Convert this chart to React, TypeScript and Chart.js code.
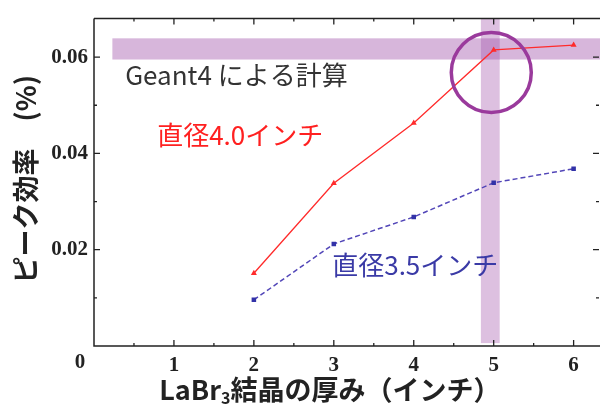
import React, { useEffect, useRef } from "react";
import { Chart, registerables } from "chart.js";

Chart.register(...registerables);

// ---- data ----
const thickness = [2, 3, 4, 5, 6];
const eff40 = [0.0151, 0.0338, 0.0463, 0.0615, 0.0625];
const eff35 = [0.0096, 0.0212, 0.0268, 0.0339, 0.0368];
const xTickLabels = ["0", "1", "2", "3", "4", "5", "6"];
const yTickLabels = ["0.02", "0.04", "0.06"];
const label40 = "直径4.0インチ";
const label35 = "直径3.5インチ";
const noteText = "Geant4 による計算";
const yTitle = "ピーク効率　(%)";
const xTitleParts = ["LaBr", "3", "結晶の厚み（インチ）"];

const CJK = '"Noto Sans CJK JP", "Noto Sans", sans-serif';
const SERIF = '"Liberation Serif", "DejaVu Serif", serif';

const decor = {
  id: "decor",
  beforeDatasetsDraw(chart: any) {
    const { ctx, chartArea: a, scales } = chart;
    const x = scales.x, y = scales.y;
    ctx.save();
    // horizontal highlight band
    const hx0 = x.getPixelForValue(0.23);
    const hy0 = y.getPixelForValue(0.0639);
    const hy1 = y.getPixelForValue(0.0595);
    ctx.fillStyle = "rgba(160,80,170,0.42)";
    ctx.fillRect(hx0, hy0, chart.width - hx0, hy1 - hy0);
    // vertical highlight band
    const vx0 = x.getPixelForValue(4.84);
    const vx1 = x.getPixelForValue(5.075);
    ctx.fillStyle = "rgba(160,80,170,0.36)";
    ctx.fillRect(vx0, a.top, vx1 - vx0, y.getPixelForValue(0.0006) - a.top);
    ctx.restore();
  },
  afterDatasetsDraw(chart: any) {
    const { ctx, chartArea: a, scales } = chart;
    const x = scales.x, y = scales.y;
    const W = chart.width;
    ctx.save();
    // circle
    ctx.beginPath();
    ctx.arc(x.getPixelForValue(4.97), y.getPixelForValue(0.0568), 40, 0, Math.PI * 2);
    ctx.strokeStyle = "#9a3a9c";
    ctx.lineWidth = 3.5;
    ctx.stroke();

    // frame
    ctx.strokeStyle = "#222";
    ctx.lineWidth = 1.5;
    ctx.beginPath();
    ctx.moveTo(a.left, a.top);
    ctx.lineTo(W, a.top);
    ctx.moveTo(a.left, a.top);
    ctx.lineTo(a.left, a.bottom);
    ctx.lineTo(W, a.bottom);
    ctx.stroke();

    // ticks (inward)
    ctx.lineWidth = 1.3;
    ctx.beginPath();
    for (let v = 0.5; v <= 6.01; v += 0.5) {
      const px = x.getPixelForValue(v);
      const len = Math.abs(v - Math.round(v)) < 1e-6 ? 6 : 3;
      ctx.moveTo(px, a.bottom);
      ctx.lineTo(px, a.bottom - len);
      ctx.moveTo(px, a.top);
      ctx.lineTo(px, a.top + len);
    }
    for (let i = 1; i <= 6; i++) {
      const v = i * 0.01;
      const py = y.getPixelForValue(v);
      const len = i % 2 === 0 ? 6 : 3;
      ctx.moveTo(a.left, py);
      ctx.lineTo(a.left + len, py);
      ctx.moveTo(W - 1, py);
      ctx.lineTo(W - 1 - len, py);
    }
    ctx.stroke();

    // "0" origin label
    ctx.fillStyle = "#222";
    ctx.font = `bold 21px ${SERIF}`;
    ctx.textAlign = "center";
    ctx.textBaseline = "middle";
    ctx.fillText(xTickLabels[0], x.getPixelForValue(0) - 14, a.bottom + 17);

    // annotations
    ctx.textAlign = "left";
    ctx.textBaseline = "middle";
    ctx.font = `26px ${CJK}`;
    ctx.fillStyle = "#333";
    ctx.fillText(noteText, x.getPixelForValue(0.39), y.getPixelForValue(0.05625));
    ctx.fillStyle = "#ff2020";
    ctx.fillText(label40, x.getPixelForValue(0.79), y.getPixelForValue(0.0437));
    ctx.fillStyle = "#3a3aa6";
    ctx.fillText(label35, x.getPixelForValue(2.98), y.getPixelForValue(0.0167));

    // x title
    ctx.fillStyle = "#222";
    const big = `bold 27px ${CJK}`;
    const small = `bold 16px ${CJK}`;
    ctx.font = big;
    const w0 = ctx.measureText(xTitleParts[0]).width;
    const w2 = ctx.measureText(xTitleParts[2]).width;
    ctx.font = small;
    const w1 = ctx.measureText(xTitleParts[1]).width;
    const total = w0 + w1 + w2;
    const cx = x.getPixelForValue(2.95);
    let sx = cx - total / 2;
    const ty = a.bottom + 44;
    ctx.textAlign = "left";
    ctx.font = big;
    ctx.fillText(xTitleParts[0], sx, ty);
    sx += w0;
    ctx.font = small;
    ctx.fillText(xTitleParts[1], sx, ty + 8);
    sx += w1;
    ctx.font = big;
    ctx.fillText(xTitleParts[2], sx, ty);

    // y title
    ctx.save();
    ctx.translate(25.5, (a.top + a.bottom) / 2 - 3);
    ctx.rotate(-Math.PI / 2);
    ctx.textAlign = "center";
    ctx.font = `bold 27px ${CJK}`;
    ctx.fillText(yTitle, 0, 0);
    ctx.restore();

    ctx.restore();
  },
};

export default function App() {
  const ref = useRef<HTMLCanvasElement | null>(null);
  useEffect(() => {
    if (!ref.current) return;
    const chart = new Chart(ref.current, {
      type: "line",
      data: {
        datasets: [
          {
            label: label40,
            data: thickness.map((t, i) => ({ x: t, y: eff40[i] })),
            borderColor: "#ff2b2b",
            backgroundColor: "#ff2b2b",
            borderWidth: 1.3,
            pointStyle: "triangle",
            pointRadius: 3.5,
            pointBorderWidth: 0,
            tension: 0,
          },
          {
            label: label35,
            data: thickness.map((t, i) => ({ x: t, y: eff35[i] })),
            borderColor: "#5246b8",
            backgroundColor: "#3232a8",
            borderWidth: 1.5,
            borderDash: [5, 3],
            pointStyle: "rect",
            pointRadius: 3.2,
            pointBorderWidth: 0,
            tension: 0,
          },
        ],
      },
      options: {
        responsive: false,
        animation: false,
        layout: { padding: { top: 16, right: 0, bottom: 0, left: 0 } },
        plugins: { legend: { display: false }, tooltip: { enabled: false } },
        scales: {
          x: {
            type: "linear",
            min: 0,
            max: 6.28,
            grid: { display: false, drawTicks: false },
            border: { display: false },
            ticks: {
              stepSize: 1,
              includeBounds: false,
              padding: 7,
              autoSkip: false,
              maxRotation: 0,
              color: "#222",
              font: { family: SERIF, weight: "bold", size: 21 },
              callback: (v: any) => {
                const s = xTickLabels.find((t) => Math.abs(parseFloat(t) - v) < 1e-9);
                return s && s !== "0" ? s : "";
              },
            },
            afterFit: (s: any) => {
              s.height = 62;
            },
          },
          y: {
            min: 0,
            max: 0.068,
            grid: { display: false, drawTicks: false },
            border: { display: false },
            ticks: {
              stepSize: 0.02,
              includeBounds: false,
              padding: 6,
              color: "#222",
              font: { family: SERIF, weight: "bold", size: 21 },
              callback: (v: any) => {
                const s = yTickLabels.find((t) => Math.abs(parseFloat(t) - v) < 1e-9);
                return s ?? "";
              },
            },
            afterFit: (s: any) => {
              s.width = 94;
            },
          },
        },
      },
      plugins: [decor],
    } as any);
    return () => chart.destroy();
  }, []);
  return (
    <div style={{ position: "fixed", left: 0, top: 0, width: 600, height: 408, background: "#fff" }}>
      <canvas ref={ref} width={600} height={408} style={{ width: 600, height: 408, display: "block" }} />
    </div>
  );
}
